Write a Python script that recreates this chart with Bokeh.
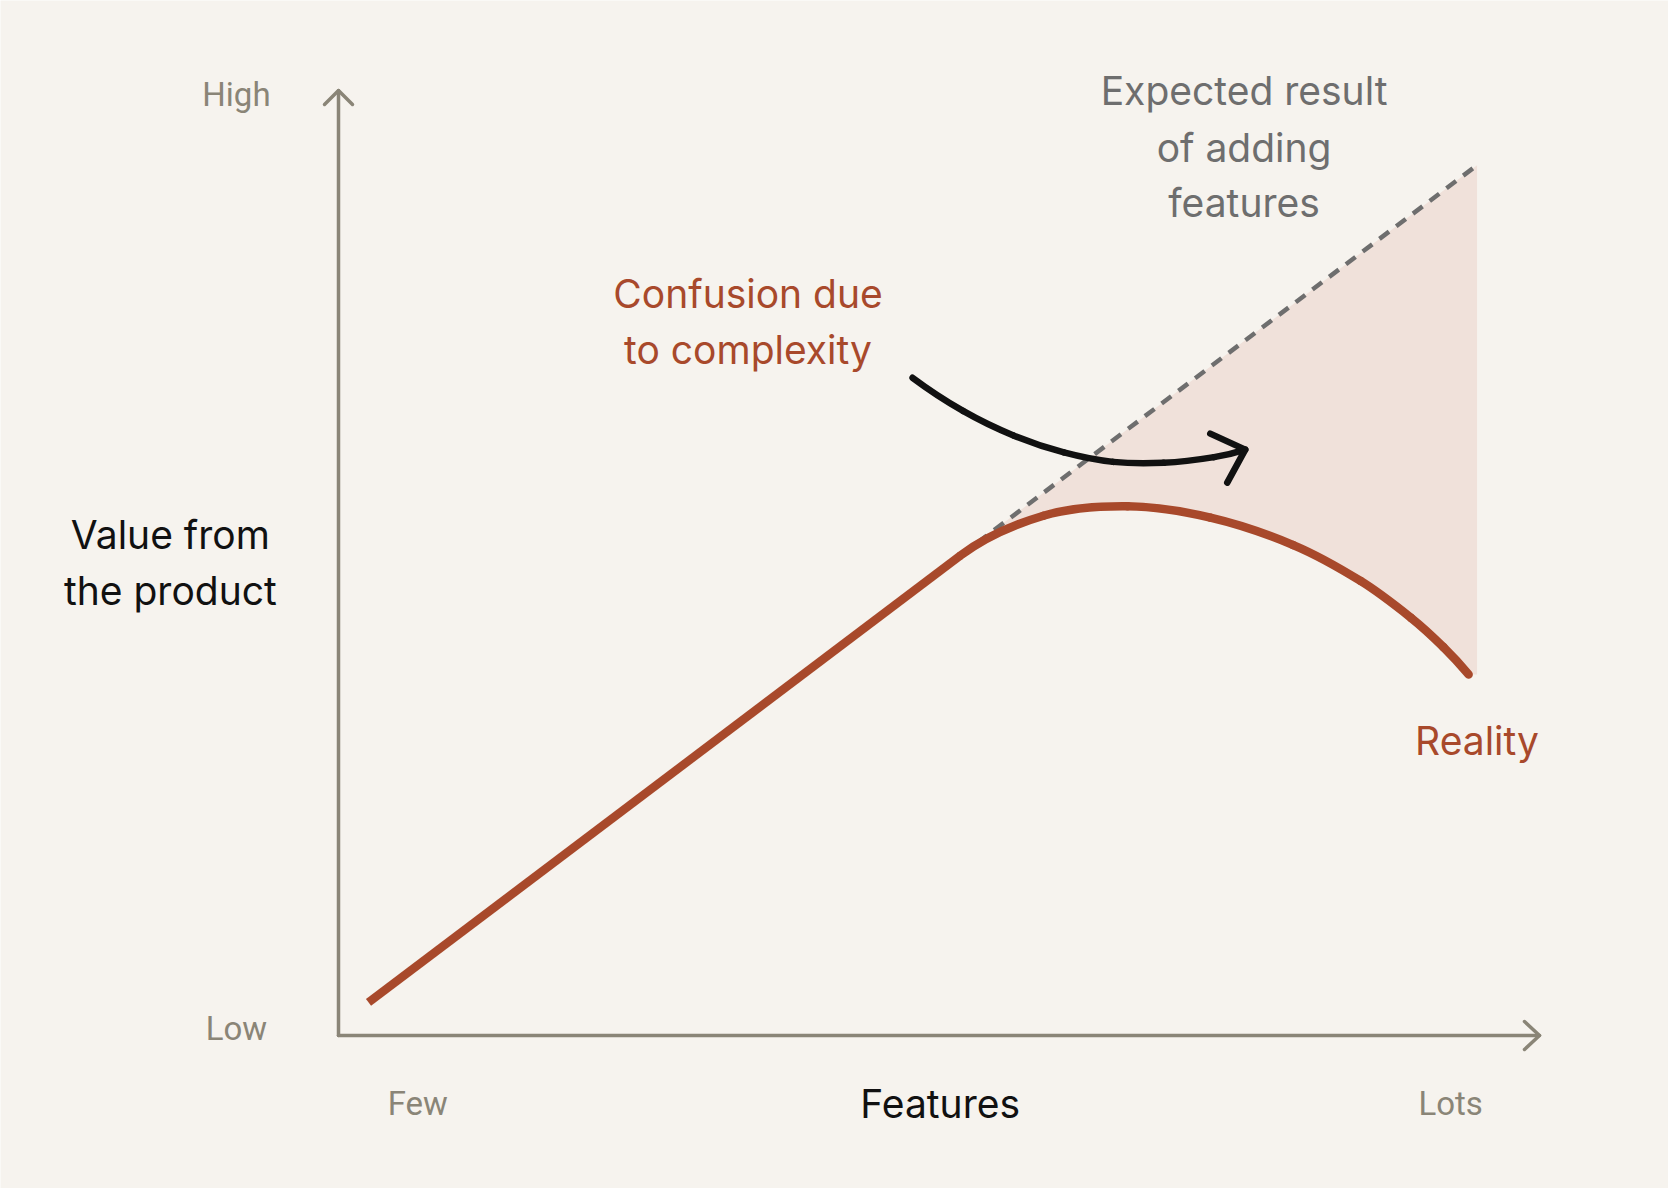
import numpy as np
from bokeh.plotting import figure
from bokeh.models import Range1d
from bokeh.core.properties import value
from bokeh.embed import file_html
from bokeh.resources import INLINE

# ---------------- data (x: features 0=Few .. 100=Lots, y: value 0=Low .. 100=High)
reality_x = [2.5, 51.8, 58.7, 65.7, 72.6, 79.5, 85.1, 89.3, 92.0, 94.1]
reality_y = [3.5, 50.8, 55.0, 56.0, 54.8, 51.9, 48.1, 44.2, 41.1, 38.2]
expected_x = [51.8, 94.8]
expected_y = [50.8, 92.1]
confusion_x = [47.8, 52.0, 56.2, 60.4, 64.5, 68.7, 72.9, 75.5]
confusion_y = [69.6, 66.1, 63.5, 61.7, 60.7, 60.6, 61.2, 62.0]
axis_max = 100
x_ticks = ["Few", "Lots"]
y_ticks = ["Low", "High"]

# ---------------- geometry / styling
W, H = 1668, 1188
PX_X, PX_Y = 12.01, 9.45        # pixels per data unit
OX, OY = 338, 1035              # origin position inside the figure (px)

BG = "#f6f3ee"
AXIS = "#8a8577"
RUST = "#a8492b"
SHADE = "#f0e1da"
DASH = "#6e6e6e"
BLACK = "#111111"
MAIN_FONT = value("Inter")
LABEL_FONT = value("Roboto")
MAIN_SIZE = "39px"
LABEL_SIZE = "33px"

p = figure(width=W, height=H, output_backend="svg", toolbar_location=None,
           x_axis_type=None, y_axis_type=None,
           x_range=Range1d(-OX / PX_X, (W - OX) / PX_X),
           y_range=Range1d(-(H - OY) / PX_Y, OY / PX_Y),
           min_border=0, background_fill_color=BG, border_fill_color=BG)
p.outline_line_color = None
p.grid.visible = False


def dx(px):
    return px / PX_X


def dy(px):
    return px / PX_Y


def smooth_segments(xs, ys, start_dir=None):
    """Cubic Bezier segments passing through the given points (chord-length Catmull-Rom)."""
    P = np.column_stack([np.asarray(xs) * PX_X, np.asarray(ys) * PX_Y])
    n = len(P)
    d = np.linalg.norm(np.diff(P, axis=0), axis=1)
    T = np.zeros_like(P)
    for i in range(1, n - 1):
        T[i] = (P[i + 1] - P[i - 1]) / (d[i - 1] + d[i])
    if start_dir is None:
        t0 = 2 * (P[1] - P[0]) / d[0] - T[1]
    else:
        t0 = np.array([start_dir[0] * PX_X, start_dir[1] * PX_Y])
    T[0] = t0 / np.linalg.norm(t0)
    tn = 2 * (P[-1] - P[-2]) / d[-1] - T[-2]
    T[-1] = tn / np.linalg.norm(tn)
    c1 = P[:-1] + T[:-1] * d[:, None] / 3
    c2 = P[1:] - T[1:] * d[:, None] / 3
    return dict(x0=P[:-1, 0] / PX_X, y0=P[:-1, 1] / PX_Y,
                x1=P[1:, 0] / PX_X, y1=P[1:, 1] / PX_Y,
                cx0=c1[:, 0] / PX_X, cy0=c1[:, 1] / PX_Y,
                cx1=c2[:, 0] / PX_X, cy1=c2[:, 1] / PX_Y)


curve = smooth_segments(reality_x[1:], reality_y[1:],
                        start_dir=(reality_x[1] - reality_x[0], reality_y[1] - reality_y[0]))

# shaded gap between expectation and reality
shade_x = expected_x + [expected_x[-1]] + reality_x[1:][::-1]
shade_y = expected_y + [reality_y[-1]] + reality_y[1:][::-1]
p.patch(shade_x, shade_y, fill_color=SHADE, line_color=None)

# axes with open arrowheads
p.line([0, axis_max], [0, 0], line_color=AXIS, line_width=3.5, line_cap="round")
p.line([0, 0], [0, axis_max], line_color=AXIS, line_width=3.5, line_cap="round")
p.line([axis_max - dx(15), axis_max, axis_max - dx(15)], [dy(14), 0, -dy(14)],
       line_color=AXIS, line_width=3.5, line_cap="round", line_join="round")
p.line([-dx(14), 0, dx(14)], [axis_max - dy(14), axis_max, axis_max - dy(14)],
       line_color=AXIS, line_width=3.5, line_cap="round", line_join="round")

# expected (dashed) line
p.line(expected_x, expected_y, line_color=DASH, line_width=4.5, line_dash="12 9")

# reality: straight rise, then smooth curve
p.line(reality_x[:2], reality_y[:2], line_color=RUST, line_width=8.5)
p.bezier(**curve, line_color=RUST, line_width=8.5, line_cap="round")

# curved annotation arrow
p.bezier(**smooth_segments(confusion_x, confusion_y), line_color=BLACK,
         line_width=6.5, line_cap="round")
tx, ty = confusion_x[-1], confusion_y[-1]
p.line([tx - dx(35), tx, tx - dx(18)], [ty + dy(16), ty, ty - dy(33)],
       line_color=BLACK, line_width=6.5, line_cap="round", line_join="round")

# tick-like labels
p.text(x=[-8.5, -8.5], y=[0.7, 99.6], text=y_ticks, text_font=LABEL_FONT,
       text_font_size=LABEL_SIZE, text_color=AXIS, text_align="center",
       text_baseline="middle")
p.text(x=[6.6, 92.6], y=[-7.2, -7.2], text=x_ticks, text_font=LABEL_FONT,
       text_font_size=LABEL_SIZE, text_color=AXIS, text_align="center",
       text_baseline="middle")

# axis titles
p.text(x=[50.1], y=[-7.2], text=["Features"], text_font=MAIN_FONT,
       text_font_size=MAIN_SIZE, text_color=BLACK, text_align="center",
       text_baseline="middle")
p.text(x=[-14.0, -14.0], y=[53.0, 47.1], text=["Value from", "the product"],
       text_font=MAIN_FONT, text_font_size=MAIN_SIZE, text_color=BLACK,
       text_align="center", text_baseline="middle")

# annotations
p.text(x=[75.4, 75.4, 75.4], y=[100.0, 94.0, 88.1],
       text=["Expected result", "of adding", "features"], text_font=MAIN_FONT,
       text_font_size=MAIN_SIZE, text_color="#6e6e6e", text_align="center",
       text_baseline="middle")
p.text(x=[34.1, 34.1], y=[78.5, 72.6], text=["Confusion due", "to complexity"],
       text_font=MAIN_FONT, text_font_size=MAIN_SIZE, text_color=RUST,
       text_align="center", text_baseline="middle")
p.text(x=[94.8], y=[31.2], text=["Reality"], text_font=MAIN_FONT,
       text_font_size=MAIN_SIZE, text_color=RUST, text_align="center",
       text_baseline="middle")

open("out.html", "w").write(file_html(p, INLINE))
